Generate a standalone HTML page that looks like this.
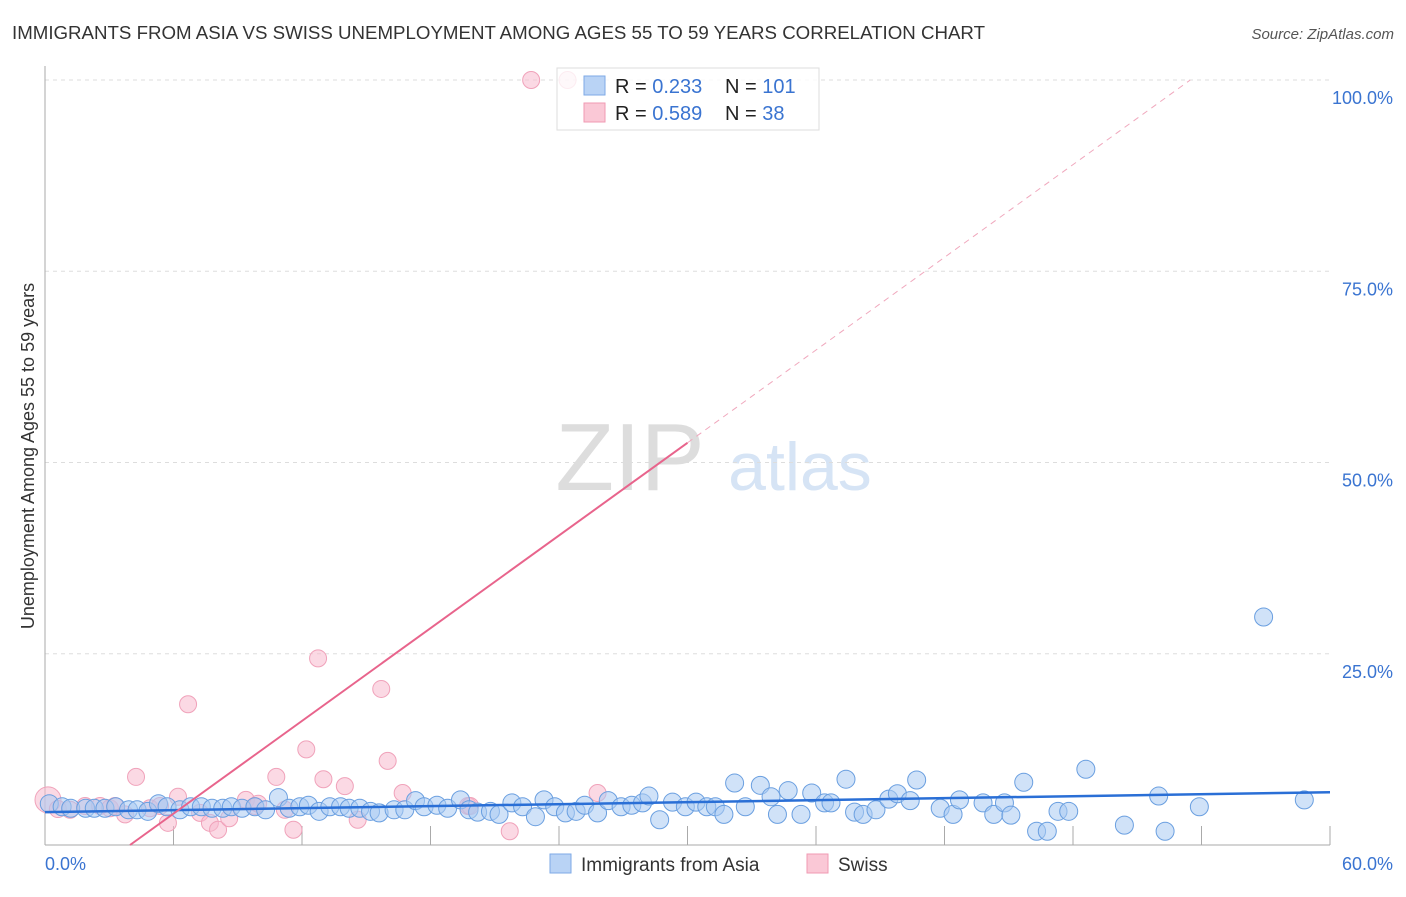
<!DOCTYPE html>
<html><head><meta charset="utf-8"><style>
body{margin:0;background:#fff;font-family:"Liberation Sans",sans-serif;}
svg text{font-family:"Liberation Sans",sans-serif;}
</style></head><body>
<svg id="chart" width="1406" height="892">
<text x="12" y="39" font-size="18.7" fill="#333">IMMIGRANTS FROM ASIA VS SWISS UNEMPLOYMENT AMONG AGES 55 TO 59 YEARS CORRELATION CHART</text>
<text x="1394" y="39" font-size="15" fill="#555" font-style="italic" text-anchor="end">Source: ZipAtlas.com</text>
<text x="630" y="490" font-size="96" fill="#ddd" font-family="Liberation Serif" text-anchor="middle">ZIP</text>
<text x="800" y="490" font-size="68" fill="#d6e4f5" text-anchor="middle">atlas</text>
<text transform="translate(34,456) rotate(-90)" font-size="18" fill="#333" text-anchor="middle">Unemployment Among Ages 55 to 59 years</text>
<g id="grid"></g><g id="pts"></g><g id="lines"></g>
<g>
<rect x="557" y="68" width="262" height="62" fill="#fff" fill-opacity="0.8" stroke="#ddd"/>
<rect x="584" y="76" width="21" height="19" fill="#b9d3f5" stroke="#7eaae6"/>
<rect x="584" y="103" width="21" height="19" fill="#fac8d6" stroke="#f09ab3"/>
<text x="615" y="93" font-size="20" fill="#222">R = <tspan fill="#3a74d1">0.233</tspan></text>
<text x="725" y="93" font-size="20" fill="#222">N = <tspan fill="#3a74d1">101</tspan></text>
<text x="615" y="120" font-size="20" fill="#222">R = <tspan fill="#3a74d1">0.589</tspan></text>
<text x="725" y="120" font-size="20" fill="#222">N = <tspan fill="#3a74d1"> 38</tspan></text>
</g>
<g>
<rect x="550" y="854" width="21" height="19" fill="#b9d3f5" stroke="#7eaae6"/>
<text x="581" y="871" font-size="19" fill="#333">Immigrants from Asia</text>
<rect x="807" y="854" width="21" height="19" fill="#fac8d6" stroke="#f09ab3"/>
<text x="838" y="871" font-size="19" fill="#333">Swiss</text>
</g>
</svg>
<script>
const yTicks=[25,50,75,100];
const xTickLabels=["0.0%","60.0%"];
const asiaX=[0.2,0.8,1.2,1.9,2.3,2.8,3.3,3.9,4.3,4.8,5.3,5.7,6.3,6.8,7.3,7.8,8.3,8.7,9.2,9.8,10.3,10.9,11.4,11.9,12.3,12.8,13.3,13.8,14.2,14.7,15.2,15.6,16.3,16.8,17.3,17.7,18.3,18.8,19.4,19.8,20.2,20.8,21.2,21.8,22.3,22.9,23.3,23.8,24.3,24.8,25.2,25.8,26.3,26.9,27.4,27.9,28.2,28.7,29.3,29.9,30.4,30.9,31.3,31.7,32.2,32.7,33.4,33.9,34.2,34.7,35.3,35.8,36.4,36.7,37.4,37.8,38.2,38.8,39.4,39.8,40.4,40.7,41.8,42.4,42.7,43.8,44.3,44.8,45.1,45.7,46.3,46.8,47.3,47.8,48.6,50.4,52.0,52.3,53.9,56.9,58.8];
const asiaY=[5.4,5.0,4.8,4.8,4.8,4.8,5.0,4.6,4.6,4.4,5.4,5.0,4.6,5.0,5.0,4.8,4.8,5.0,4.8,5.0,4.6,6.2,4.8,5.0,5.2,4.4,5.0,5.0,4.8,4.8,4.4,4.2,4.6,4.6,5.8,5.0,5.2,4.8,5.9,4.6,4.3,4.4,4.0,5.5,5.0,3.7,5.9,5.0,4.2,4.4,5.2,4.2,5.8,5.0,5.2,5.5,6.4,3.3,5.6,5.0,5.6,5.0,5.0,4.0,8.1,5.0,7.8,6.3,4.0,7.1,4.0,6.8,5.5,5.5,8.6,4.3,4.0,4.6,6.0,6.7,5.8,8.5,4.8,4.0,5.9,5.5,4.0,5.5,3.9,8.2,1.8,1.8,4.4,4.4,9.9,2.6,6.4,1.8,5.0,29.8,5.9];
const swissX=[0.14,0.6,1.17,1.87,2.57,3.03,3.27,3.74,4.25,4.9,5.37,5.74,6.21,6.68,7.24,7.7,8.08,8.6,9.38,9.8,9.95,10.8,11.2,11.6,12.2,12.75,13.0,14.0,14.6,15.7,16.0,16.7,19.75,19.85,21.7,22.7,24.4,25.8];
const swissY=[5.9,4.7,4.6,5.1,5.1,4.8,5.1,4.0,8.9,4.8,5.1,2.9,6.3,18.4,4.2,2.9,2.0,3.5,5.9,5.1,5.4,8.9,4.6,2.0,12.5,24.4,8.6,7.7,3.3,20.4,11.0,6.8,5.1,5.1,1.8,100,100,6.8];
const asiaTrend=[4.3,6.9];
const swissTrend=[3.97,2.02];
const NS="http://www.w3.org/2000/svg";
const X=v=>45+v/60*1285, Y=v=>845-v*7.65;
function mk(t,a,p){const e=document.createElementNS(NS,t);for(const k in a)e.setAttribute(k,a[k]);p.appendChild(e);return e;}
const grid=document.getElementById('grid');
yTicks.forEach(t=>{
 const l=mk('line',{x1:45,x2:1330,y1:Y(t),y2:Y(t),stroke:'#ddd','stroke-dasharray':'4,4'},grid);
 
 
 const tx=mk('text',{x:1393,y:Y(t)+24,'font-size':18,fill:'#3a74d1','text-anchor':'end'},grid);
 tx.textContent=t.toFixed(1)+'%';
 
 
});
mk('line',{x1:45,x2:45,y1:66,y2:845,stroke:'#aaa'},grid);
mk('line',{x1:45,x2:1330,y1:845,y2:845,stroke:'#aaa'},grid);
for(let i=0;i<=10;i++){mk('line',{x1:X(i*6),x2:X(i*6),y1:826,y2:845,stroke:'#aaa'},grid);}
const xl0=mk('text',{x:45,y:870,'font-size':18,fill:'#3a74d1'},grid);xl0.textContent=xTickLabels[0];


const xl1=mk('text',{x:1393,y:870,'font-size':18,fill:'#3a74d1','text-anchor':'end'},grid);xl1.textContent=xTickLabels[1];


const pts=document.getElementById('pts');
swissX.forEach((x,i)=>{const c=mk('circle',{cx:X(x),cy:Y(swissY[i]),r:i==0?13:8.5,fill:'rgba(248,185,205,0.55)',stroke:'#f0a2ba','stroke-width':1},pts);
 
 });
asiaX.forEach((x,i)=>{const c=mk('circle',{cx:X(x),cy:Y(asiaY[i]),r:9,fill:'rgba(170,202,242,0.55)',stroke:'#6a9fe0','stroke-width':1},pts);
 
 });
const lines=document.getElementById('lines');
const bt=mk('line',{x1:X(0),y1:Y(asiaTrend[0]),x2:X(60),y2:Y(asiaTrend[1]),stroke:'#2a6fd6','stroke-width':2.5},lines);


const x0=swissTrend[0],s=swissTrend[1],xe=30,xd=x0+100/s;
const pt=mk('line',{x1:X(x0),y1:Y(0),x2:X(xe),y2:Y((xe-x0)*s),stroke:'#e8648c','stroke-width':2},lines);


const pd=mk('line',{x1:X(xe),y1:Y((xe-x0)*s),x2:X(xd),y2:Y(100),stroke:'#f0a8bd','stroke-width':1,'stroke-dasharray':'6,5'},lines);


</script>
</body></html>
